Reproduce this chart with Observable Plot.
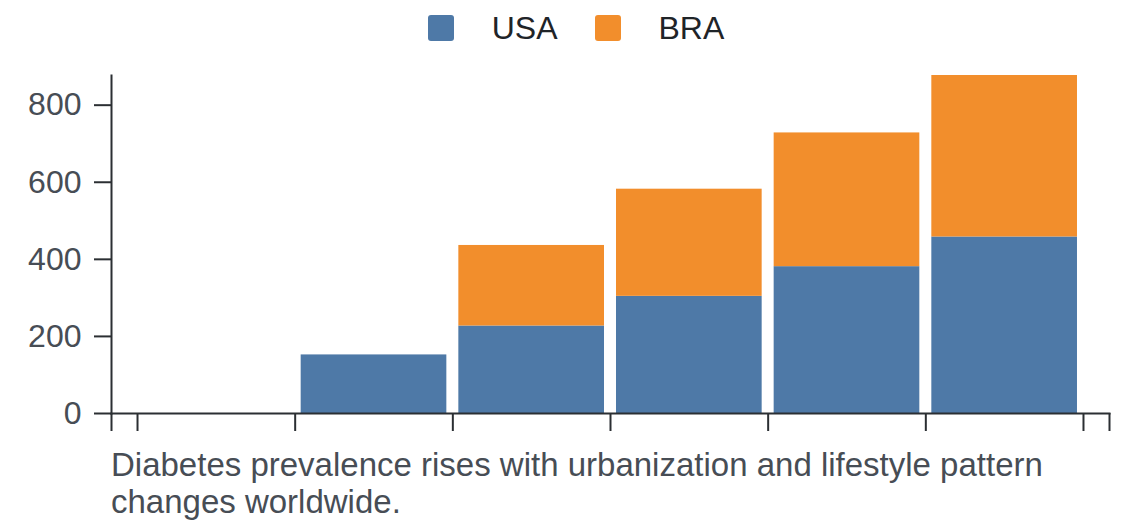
<!DOCTYPE html>
<html>
<head>
<meta charset="utf-8">
<script src="https://cdn.jsdelivr.net/npm/d3@7"></script>
<script src="https://cdn.jsdelivr.net/npm/@observablehq/plot@0.6"></script>
<style>
  html, body { margin: 0; padding: 0; background: #fff; }
  body { width: 1140px; font-family: "Liberation Sans", Arial, sans-serif; }
  #legend { height: 56px; display: flex; align-items: center; justify-content: center; padding-left: 12px; box-sizing: border-box; }
  .item { display: flex; align-items: center; font-size: 32px; color: #1f2428; }
  .sw { width: 26px; height: 26px; border-radius: 3px; margin-right: 38px; }
  .item + .item { margin-left: 37px; }
  #caption { margin-top: 6px; padding-left: 111px; width: 960px; font-size: 33px; line-height: 37px; color: #474d55; }
  svg { display: block; }
</style>
</head>
<body>
<div id="legend"></div>
<div id="chart"></div>
<div id="caption"></div>
<script>
// ---- data ----
const binStarts = [0, 1, 2, 3, 4, 5];
const binEnds   = [1, 2, 3, 4, 5, 6];
const seriesNames = ["USA", "BRA"];
const seriesColors = ["#4e79a7", "#f28e2c"];
const usaValues = [0, 152, 227, 304, 381, 458];
const braValues = [0, 0, 209, 278, 347, 419];
const yTicks = [0, 200, 400, 600, 800];
const captionText = "Diabetes prevalence rises with urbanization and lifestyle pattern changes worldwide.";

// ---- table ----
const rows = [];
binStarts.forEach((s, i) => {
  if (usaValues[i] > 0) rows.push({x1: s, x2: binEnds[i], series: "USA", value: usaValues[i]});
  if (braValues[i] > 0) rows.push({x1: s, x2: binEnds[i], series: "BRA", value: braValues[i]});
});

const edges = [...binStarts, binEnds[binEnds.length - 1]];
const pad = 0.165;
const xDomain = [edges[0] - pad, edges[edges.length - 1] + pad];
const axisColor = "#2b2f33";

// ---- legend ----
const legend = document.getElementById("legend");
seriesNames.forEach((name, i) => {
  const it = document.createElement("div");
  it.className = "item";
  const sw = document.createElement("span");
  sw.className = "sw";
  sw.style.background = seriesColors[i];
  const tx = document.createElement("span");
  tx.textContent = name;
  it.appendChild(sw); it.appendChild(tx);
  legend.appendChild(it);
});

// ---- chart ----
const chart = Plot.plot({
  width: 1140,
  height: 384,
  marginTop: 19,
  marginBottom: 27,
  marginLeft: 111,
  marginRight: 31,
  style: {fontFamily: "'Liberation Sans', Arial, sans-serif", color: "#474d55", background: "#fff"},
  x: {domain: xDomain, axis: null},
  y: {axis: null},
  color: {domain: seriesNames, range: seriesColors},
  marks: [
    Plot.rectY(rows, Plot.stackY({x1: "x1", x2: "x2", y: "value", fill: "series", order: seriesNames, insetLeft: 6, insetRight: 6})),
    Plot.axisY({ticks: yTicks, label: null, tickSize: 17, tickPadding: 13, fontSize: 32, stroke: axisColor, strokeWidth: 2, fill: "#474d55"}),
    Plot.axisX({ticks: [xDomain[0], ...edges, xDomain[1]], label: null, tickSize: 18, tickFormat: () => "", stroke: axisColor, strokeWidth: 2}),
    Plot.frame({anchor: "left", stroke: axisColor, strokeWidth: 2}),
    Plot.frame({anchor: "bottom", stroke: axisColor, strokeWidth: 2})
  ]
});
document.getElementById("chart").appendChild(chart);
document.getElementById("caption").textContent = captionText;
</script>
</body>
</html>
